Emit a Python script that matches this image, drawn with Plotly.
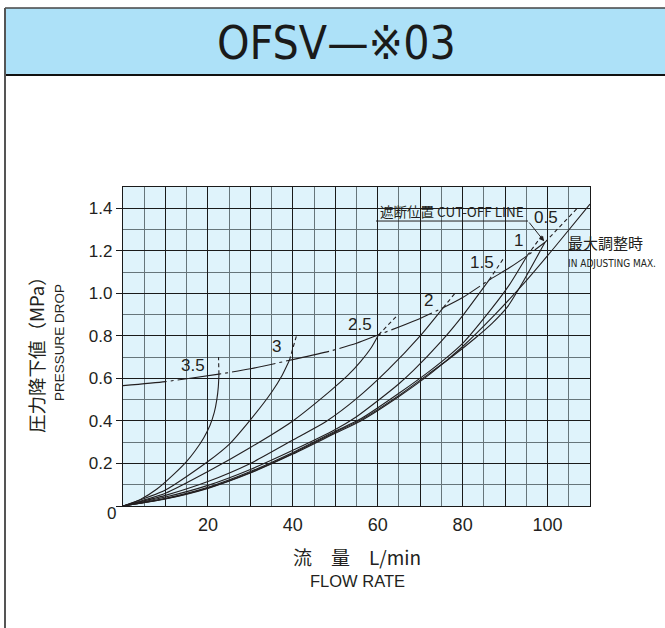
import plotly.graph_objects as go

# ---------------- data ----------------
flow_35 = [0, 4, 8, 12, 15, 17, 19, 20.5, 21.5, 22.1, 22.45, 22.6]
drop_35 = [0, 0.03, 0.08, 0.15, 0.21, 0.26, 0.32, 0.38, 0.44, 0.50, 0.56, 0.62]
flow_3 = [0, 10, 20, 25, 30, 35, 37.5, 39.2]
drop_3 = [0, 0.075, 0.209, 0.29, 0.405, 0.535, 0.615, 0.685]
flow_25 = [0, 10, 20, 30, 40, 48.7, 53, 56, 58.5, 60.2]
drop_25 = [0, 0.06, 0.162, 0.275, 0.40, 0.539, 0.615, 0.68, 0.745, 0.805]
flow_2 = [0, 10, 20, 30, 40, 48, 55, 62.4, 70, 75.4]
drop_2 = [0, 0.05, 0.115, 0.20, 0.31, 0.40, 0.505, 0.64, 0.80, 0.932]
flow_15 = [0, 10, 20, 30, 40, 50, 55, 60, 65, 68.3, 75, 80.2, 86.2]
drop_15 = [0, 0.042, 0.097, 0.172, 0.262, 0.36, 0.42, 0.495, 0.575, 0.635, 0.775, 0.90, 1.062]
flow_1 = [0, 10, 20, 30, 40, 50, 56, 65, 72.6, 80, 86.5, 91, 95.2]
drop_1 = [0, 0.036, 0.088, 0.162, 0.252, 0.352, 0.41, 0.53, 0.64, 0.765, 0.92, 1.04, 1.177]
flow_05 = [0, 10, 20, 30, 40, 50, 56, 65, 72.6, 78, 83, 87, 90.5, 94.3, 99.4]
drop_05 = [0, 0.034, 0.085, 0.158, 0.247, 0.347, 0.405, 0.52, 0.63, 0.71, 0.79, 0.86, 0.935, 1.057, 1.24]
flow_max = [0, 10, 20, 30, 40, 50, 56, 65, 72.6, 80, 87.6, 95, 102, 110]
drop_max = [0, 0.033, 0.083, 0.155, 0.244, 0.342, 0.40, 0.515, 0.625, 0.75, 0.90, 1.06, 1.225, 1.42]

# dashed continuations above the cut-off line
ext_flow = {"3.5": [22.6, 22.5], "3": [39.2, 41.0], "2.5": [60.2, 64.8], "2": [75.4, 78.2],
            "1.5": [86.2, 89.5], "1": [95.2, 98.6], "0.5": [99.4, 107.0]}
ext_drop = {"3.5": [0.62, 0.70], "3": [0.685, 0.81], "2.5": [0.805, 0.90], "2": [0.932, 1.0],
            "1.5": [1.062, 1.16], "1": [1.177, 1.27], "0.5": [1.24, 1.40]}

cut_flow = [0, 10, 22.6, 30, 39.2, 48.7, 55, 60.2, 65, 70, 75.4, 80, 86.2, 91, 95.2, 99.4]
cut_drop = [0.566, 0.585, 0.62, 0.645, 0.685, 0.728, 0.765, 0.805, 0.842, 0.882, 0.932,
            0.98, 1.062, 1.12, 1.177, 1.24]

curve_labels = ["3.5", "3", "2.5", "2", "1.5", "1", "0.5"]
label_x = [16.6, 36.1, 55.9, 71.9, 84.6, 93.1, 99.6]
label_y = [0.66, 0.75, 0.854, 0.967, 1.146, 1.25, 1.358]

x_ticks = [0, 10, 20, 30, 40, 50, 60, 70, 80, 90, 100, 110]
x_tick_text = ["", "", "20", "", "40", "", "60", "", "80", "", "100", ""]
y_ticks = [0, 0.2, 0.4, 0.6, 0.8, 1.0, 1.2, 1.4]
y_tick_text = ["", "0.2", "0.4", "0.6", "0.8", "1.0", "1.2", "1.4"]

# ---------------- figure ----------------
INK = "#231f20"
fig = go.Figure()

curves = [(flow_35, drop_35), (flow_3, drop_3), (flow_25, drop_25), (flow_2, drop_2),
          (flow_15, drop_15), (flow_1, drop_1), (flow_05, drop_05), (flow_max, drop_max)]
for fx, fy in curves:
    fig.add_trace(go.Scatter(x=fx, y=fy, mode="lines",
                             line=dict(color=INK, width=1.1, shape="spline", smoothing=0.6),
                             hoverinfo="skip", showlegend=False))

for k in curve_labels:
    fig.add_trace(go.Scatter(x=ext_flow[k], y=ext_drop[k], mode="lines",
                             line=dict(color=INK, width=1.1, dash="4px,3px"),
                             hoverinfo="skip", showlegend=False))

fig.add_trace(go.Scatter(x=cut_flow, y=cut_drop, mode="lines",
                         line=dict(color=INK, width=1.1, shape="spline", smoothing=0.6,
                                   dash="44px,4px,3px,4px"),
                         hoverinfo="skip", showlegend=False))

FONT = "Liberation Sans, Arial, Helvetica, sans-serif"
COND = "DejaVu Sans Condensed, Liberation Sans Narrow, Liberation Sans, sans-serif"
JP = "Noto Sans CJK JP, Liberation Sans, sans-serif"


def px_x(px):
    return (px - 123) / 467


def px_y(py):
    return (506 - py) / 319


annotations = []
for t, lx, ly in zip(curve_labels, label_x, label_y):
    annotations.append(dict(x=lx, y=ly, xref="x", yref="y", text=t, showarrow=False,
                            font=dict(family=FONT, size=17, color=INK)))

annotations += [
    dict(x=px_x(111), y=px_y(513), xref="paper", yref="paper", text="0", showarrow=False,
         xanchor="center", yanchor="middle", font=dict(family=FONT, size=17, color=INK)),
    dict(x=px_x(336), y=px_y(43), xref="paper", yref="paper", text="OFSV—※03", showarrow=False,
         xanchor="center", yanchor="middle", font=dict(family=COND, size=46, color="#1a1a1a")),
    dict(x=px_x(36), y=px_y(350), xref="paper", yref="paper",
         text="圧力降下値（MPa）", textangle=-90, showarrow=False,
         xanchor="center", yanchor="middle", font=dict(family=JP, size=18.5, color=INK)),
    dict(x=px_x(59), y=px_y(343), xref="paper", yref="paper",
         text="PRESSURE DROP", textangle=-90, showarrow=False,
         xanchor="center", yanchor="middle", font=dict(family=FONT, size=13.5, color=INK)),
    dict(x=px_x(357), y=px_y(556), xref="paper", yref="paper",
         text="流　量　L/min", showarrow=False,
         xanchor="center", yanchor="middle", font=dict(family=JP, size=19, color=INK)),
    dict(x=px_x(357), y=px_y(581), xref="paper", yref="paper",
         text="FLOW RATE", showarrow=False,
         xanchor="center", yanchor="middle", font=dict(family=FONT, size=16.5, color=INK)),
    dict(x=77.5, y=1.385, xref="x", yref="y", text="遮断位置 CUT-OFF LINE",
         showarrow=False, font=dict(family=JP, size=13.5, color=INK)),
    dict(x=99.2, y=1.245, xref="x", yref="y", ax=95.4, ay=1.34, axref="x", ayref="y",
         text="", showarrow=True, arrowhead=2, arrowsize=1, arrowwidth=1, arrowcolor=INK),
    dict(x=px_x(566), y=px_y(242), xref="paper", yref="paper", xanchor="left", yanchor="middle",
         text="最大調整時", showarrow=False, font=dict(family=JP, size=15, color=INK)),
    dict(x=px_x(566), y=px_y(263), xref="paper", yref="paper", xanchor="left", yanchor="middle",
         text="IN ADJUSTING MAX.", showarrow=False, font=dict(family=COND, size=10, color=INK)),
]

shapes = [
    # header band
    dict(type="rect", xref="paper", yref="paper", x0=px_x(5), x1=1.5,
         y0=px_y(75), y1=px_y(8), fillcolor="#ade1f8",
         line=dict(width=0), layer="below"),
    dict(type="line", xref="paper", yref="paper", x0=px_x(5), x1=1.5,
         y0=px_y(8), y1=px_y(8), line=dict(color="#444", width=1.5)),
    dict(type="line", xref="paper", yref="paper", x0=px_x(5), x1=1.5,
         y0=px_y(75), y1=px_y(75), line=dict(color="#111", width=2)),
    dict(type="line", xref="paper", yref="paper", x0=px_x(5), x1=px_x(5),
         y0=px_y(8), y1=-0.5, line=dict(color="#555", width=2)),
    # underline of cut-off label
    dict(type="line", xref="x", yref="y", x0=59.6, x1=95.4, y0=1.34, y1=1.34,
         line=dict(color=INK, width=1)),
]

fig.update_layout(
    width=665, height=628,
    margin=dict(l=123, r=75, t=187, b=122),
    paper_bgcolor="white", plot_bgcolor="#dff3fb",
    showlegend=False,
    annotations=annotations, shapes=shapes,
    xaxis=dict(range=[0, 110], tickvals=x_ticks, ticktext=x_tick_text, ticks="",
               showgrid=True, gridcolor="#1a1a1a", gridwidth=1, zeroline=False,
               showline=True, linecolor="#1a1a1a", linewidth=1.2, mirror=True,
               tickfont=dict(family=FONT, size=18, color=INK), ticklabelstandoff=2,
               minor=dict(dtick=5, tick0=0, showgrid=True, gridcolor="#66757a", gridwidth=1.4),
               fixedrange=True),
    yaxis=dict(range=[0, 1.5], tickvals=y_ticks, ticktext=y_tick_text, ticks="outside",
               ticklen=6, tickcolor="#1a1a1a", tickwidth=1,
               showgrid=True, gridcolor="#1a1a1a", gridwidth=1, zeroline=False,
               showline=True, linecolor="#1a1a1a", linewidth=1.2, mirror=True,
               tickfont=dict(family=FONT, size=17, color=INK),
               minor=dict(dtick=0.1, tick0=0, showgrid=True, gridcolor="#66757a", gridwidth=1.4),
               fixedrange=True),
)

fig.write_html("out.html", config={"displayModeBar": False},
               post_script="document.body.style.margin='0';document.body.style.overflow='hidden';")
